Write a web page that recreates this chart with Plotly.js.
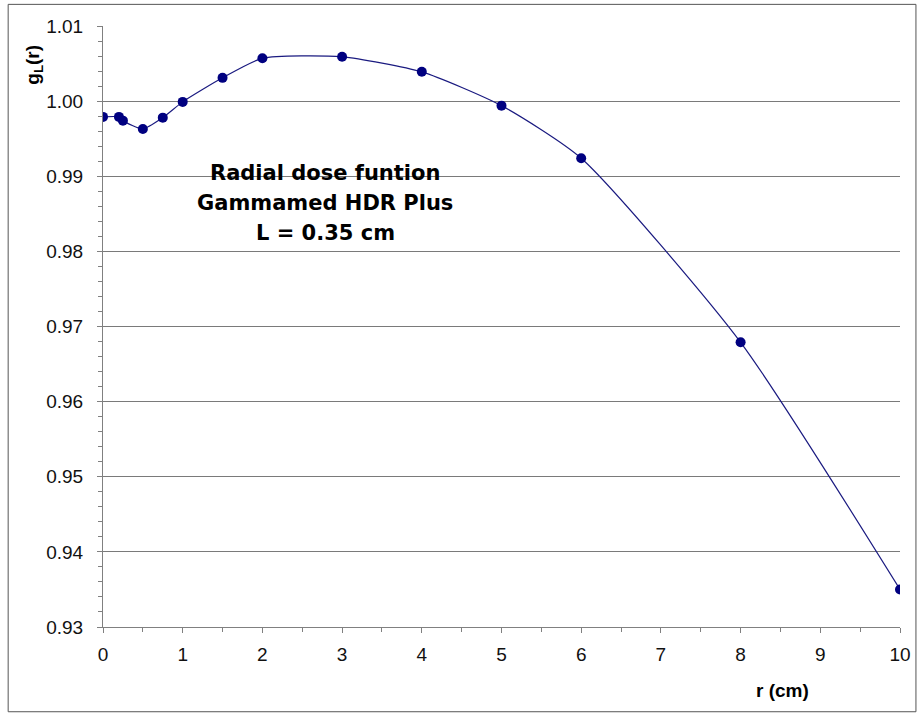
<!DOCTYPE html>
<html>
<head>
<meta charset="utf-8">
<script src="https://cdn.plot.ly/plotly-3.0.1.min.js"></script>
<style>html,body{margin:0;padding:0;background:#fff;}#chart{width:918px;height:718px;}</style>
</head>
<body>
<div id="chart"></div>
<script>
// Data
const r = [0, 0.2, 0.25, 0.5, 0.75, 1, 1.5, 2, 3, 4, 5, 6, 8, 10];
const gL = [0.9979, 0.9979, 0.9974, 0.9963, 0.9978, 0.9999, 1.0031, 1.0057, 1.0059, 1.0039, 0.9994, 0.9924, 0.9679, 0.9350];
const titleLines = ["Radial dose funtion", "Gammamed HDR Plus", "L = 0.35 cm"];
const yTitle = "g<sub>L</sub>(r)";
const xTitle = "r (cm)";

const FONT = "Liberation Sans, Arial, sans-serif";
const TFONT = "DejaVu Sans, Liberation Sans, Arial, sans-serif";
const AXC = "#808080";

const trace = {
  x: r, y: gL, type: "scatter", mode: "lines+markers",
  line: {color: "#1a1a80", width: 1.2, shape: "spline", smoothing: 0.6},
  marker: {color: "#000080", size: 10},
  hoverinfo: "x+y"
};

const annotations = titleLines.map((t, i) => ({
  text: "<b>" + t + "</b>", x: 2.79, y: 0.99044 - i * 0.004, xref: "x", yref: "y",
  showarrow: false, font: {family: TFONT, size: 21, color: "#000"}, xanchor: "center", yanchor: "middle"
}));
annotations.push({
  text: "<b>" + yTitle + "</b>", xref: "paper", yref: "paper", x: -0.087, y: 0.935,
  xanchor: "center", yanchor: "middle",
  textangle: -90, showarrow: false, font: {family: FONT, size: 19, color: "#000"}
});
annotations.push({
  text: "<b>" + xTitle + "</b>", xref: "paper", yref: "paper", x: 0.853, y: -0.105,
  xanchor: "center", yanchor: "middle",
  showarrow: false, font: {family: FONT, size: 19, color: "#000"}
});

const layout = {
  width: 918, height: 718,
  margin: {l: 103, r: 18, t: 26, b: 91},
  paper_bgcolor: "#fff", plot_bgcolor: "#fff",
  showlegend: false,
  font: {family: FONT, size: 19, color: "#111"},
  xaxis: {
    range: [0, 10], dtick: 1, tick0: 0, showgrid: false, zeroline: false,
    showline: true, linecolor: AXC, linewidth: 1,
    ticks: "outside", ticklen: 5, tickcolor: AXC, ticklabelstandoff: 5,
    minor: {dtick: 0.5, ticks: "outside", ticklen: 4, tickcolor: AXC, showgrid: false},
    tickfont: {family: FONT, size: 19, color: "#111"}
  },
  yaxis: {
    range: [0.93, 1.01], dtick: 0.01, tick0: 0.93, tickformat: ".2f",
    showgrid: true, gridcolor: "#7a7a7a", gridwidth: 1, zeroline: false,
    showline: true, linecolor: AXC, linewidth: 1,
    ticks: "outside", ticklen: 5, tickcolor: AXC, ticklabelstandoff: 10,
    minor: {dtick: 0.002, ticks: "outside", ticklen: 4, tickcolor: AXC, showgrid: false},
    tickfont: {family: FONT, size: 19, color: "#111"}
  },
  annotations: annotations,
  shapes: [{
    type: "rect", xref: "paper", yref: "paper",
    x0: -0.119, x1: 1.02, y0: -0.141, y1: 1.036,
    line: {color: "#555", width: 1}, fillcolor: "rgba(0,0,0,0)", layer: "below"
  }]
};

Plotly.newPlot("chart", [trace], layout, {displayModeBar: false, staticPlot: true});
</script>
</body>
</html>
